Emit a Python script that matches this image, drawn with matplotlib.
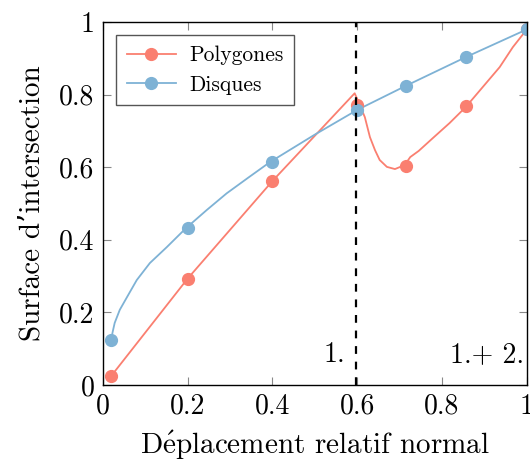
import matplotlib
matplotlib.use("Agg")
from matplotlib import pyplot as plt

plt.rcParams['font.family'] = ['cmr10', 'DejaVu Serif']
plt.rcParams['mathtext.fontset'] = 'cm'
plt.rcParams['axes.formatter.use_mathtext'] = True

# marker positions
mark_x = [0.02, 0.2, 0.4, 0.6, 0.714, 0.857, 1.0]
poly_marks = [0.025, 0.293, 0.562, 0.771, 0.603, 0.768, 0.98]
disk_marks = [0.125, 0.432, 0.614, 0.758, 0.824, 0.904, 0.98]

# line traces
poly_x = [0.02, 0.2, 0.4, 0.594, 0.608, 0.618, 0.630, 0.642, 0.653, 0.670, 0.689, 0.712,
          0.725, 0.745, 0.778, 0.818, 0.856, 0.896, 0.936, 0.967, 1.0]
poly_y = [0.025, 0.293, 0.562, 0.804, 0.766, 0.738, 0.683, 0.647, 0.620, 0.601, 0.595, 0.606,
          0.628, 0.645, 0.680, 0.722, 0.766, 0.821, 0.876, 0.931, 0.98]
disk_x = [0.02, 0.023, 0.028, 0.040, 0.057, 0.080, 0.111, 0.151, 0.196, 0.245, 0.292, 0.345,
          0.394, 0.5, 0.6, 0.714, 0.857, 1.0]
disk_y = [0.125, 0.145, 0.171, 0.207, 0.242, 0.289, 0.336, 0.380, 0.432, 0.482, 0.528, 0.573,
          0.614, 0.690, 0.758, 0.824, 0.904, 0.98]

ticks = [0, 0.2, 0.4, 0.6, 0.8, 1]
tick_labels = ['0', '0.2', '0.4', '0.6', '0.8', '1']

red = '#FA7F70'
blue = '#7EB2D5'

fig = plt.figure(figsize=(5.30, 4.61), dpi=100)
ax = fig.add_axes([0.194, 0.165, 0.8, 0.787])

ax.plot(poly_x, poly_y, color=red, lw=1.3)
ax.plot(disk_x, disk_y, color=blue, lw=1.3)
ax.plot(mark_x, poly_marks, 'o', color=red, ms=8.5)
ax.plot(mark_x, disk_marks, 'o', color=blue, ms=8.5)
# legend handles
ax.plot([], [], '-o', color=red, lw=1.3, ms=8.5, label='Polygones')
ax.plot([], [], '-o', color=blue, lw=1.3, ms=8.5, label='Disques')

ax.axvline(0.597, color='black', ls=(0, (3.5, 3.5)), lw=1.6)
ax.text(0.572, 0.083, '1.', fontsize=20, ha='right', va='center')
ax.text(0.993, 0.083, '1.+ 2.', fontsize=20, ha='right', va='center')

ax.set_xlim(0, 1)
ax.set_ylim(0, 1)
ax.set_xticks(ticks)
ax.set_xticklabels(tick_labels)
ax.set_yticks(ticks)
ax.set_yticklabels(tick_labels)
ax.tick_params(direction='in', length=6, color='#888888', labelsize=20,
               top=True, right=True, pad=6)
for s in ax.spines.values():
    s.set_linewidth(1.0)

ax.set_xlabel(r'D$\mathrm{\acute{e}}$placement relatif normal', fontsize=21, labelpad=7)
ax.set_ylabel("Surface d\u2019intersection", fontsize=21, labelpad=10)

handles, labels = ax.get_legend_handles_labels()
leg = ax.legend(handles[-2:], labels[-2:], loc='upper left', fontsize=15.5,
                bbox_to_anchor=(0.031, 0.964), borderaxespad=0, fancybox=False,
                edgecolor='#555555', framealpha=1, handlelength=2.3, handletextpad=0.6,
                borderpad=0.5, labelspacing=0.45)
leg.get_frame().set_linewidth(1.0)

fig.savefig('out.png', dpi=100)
